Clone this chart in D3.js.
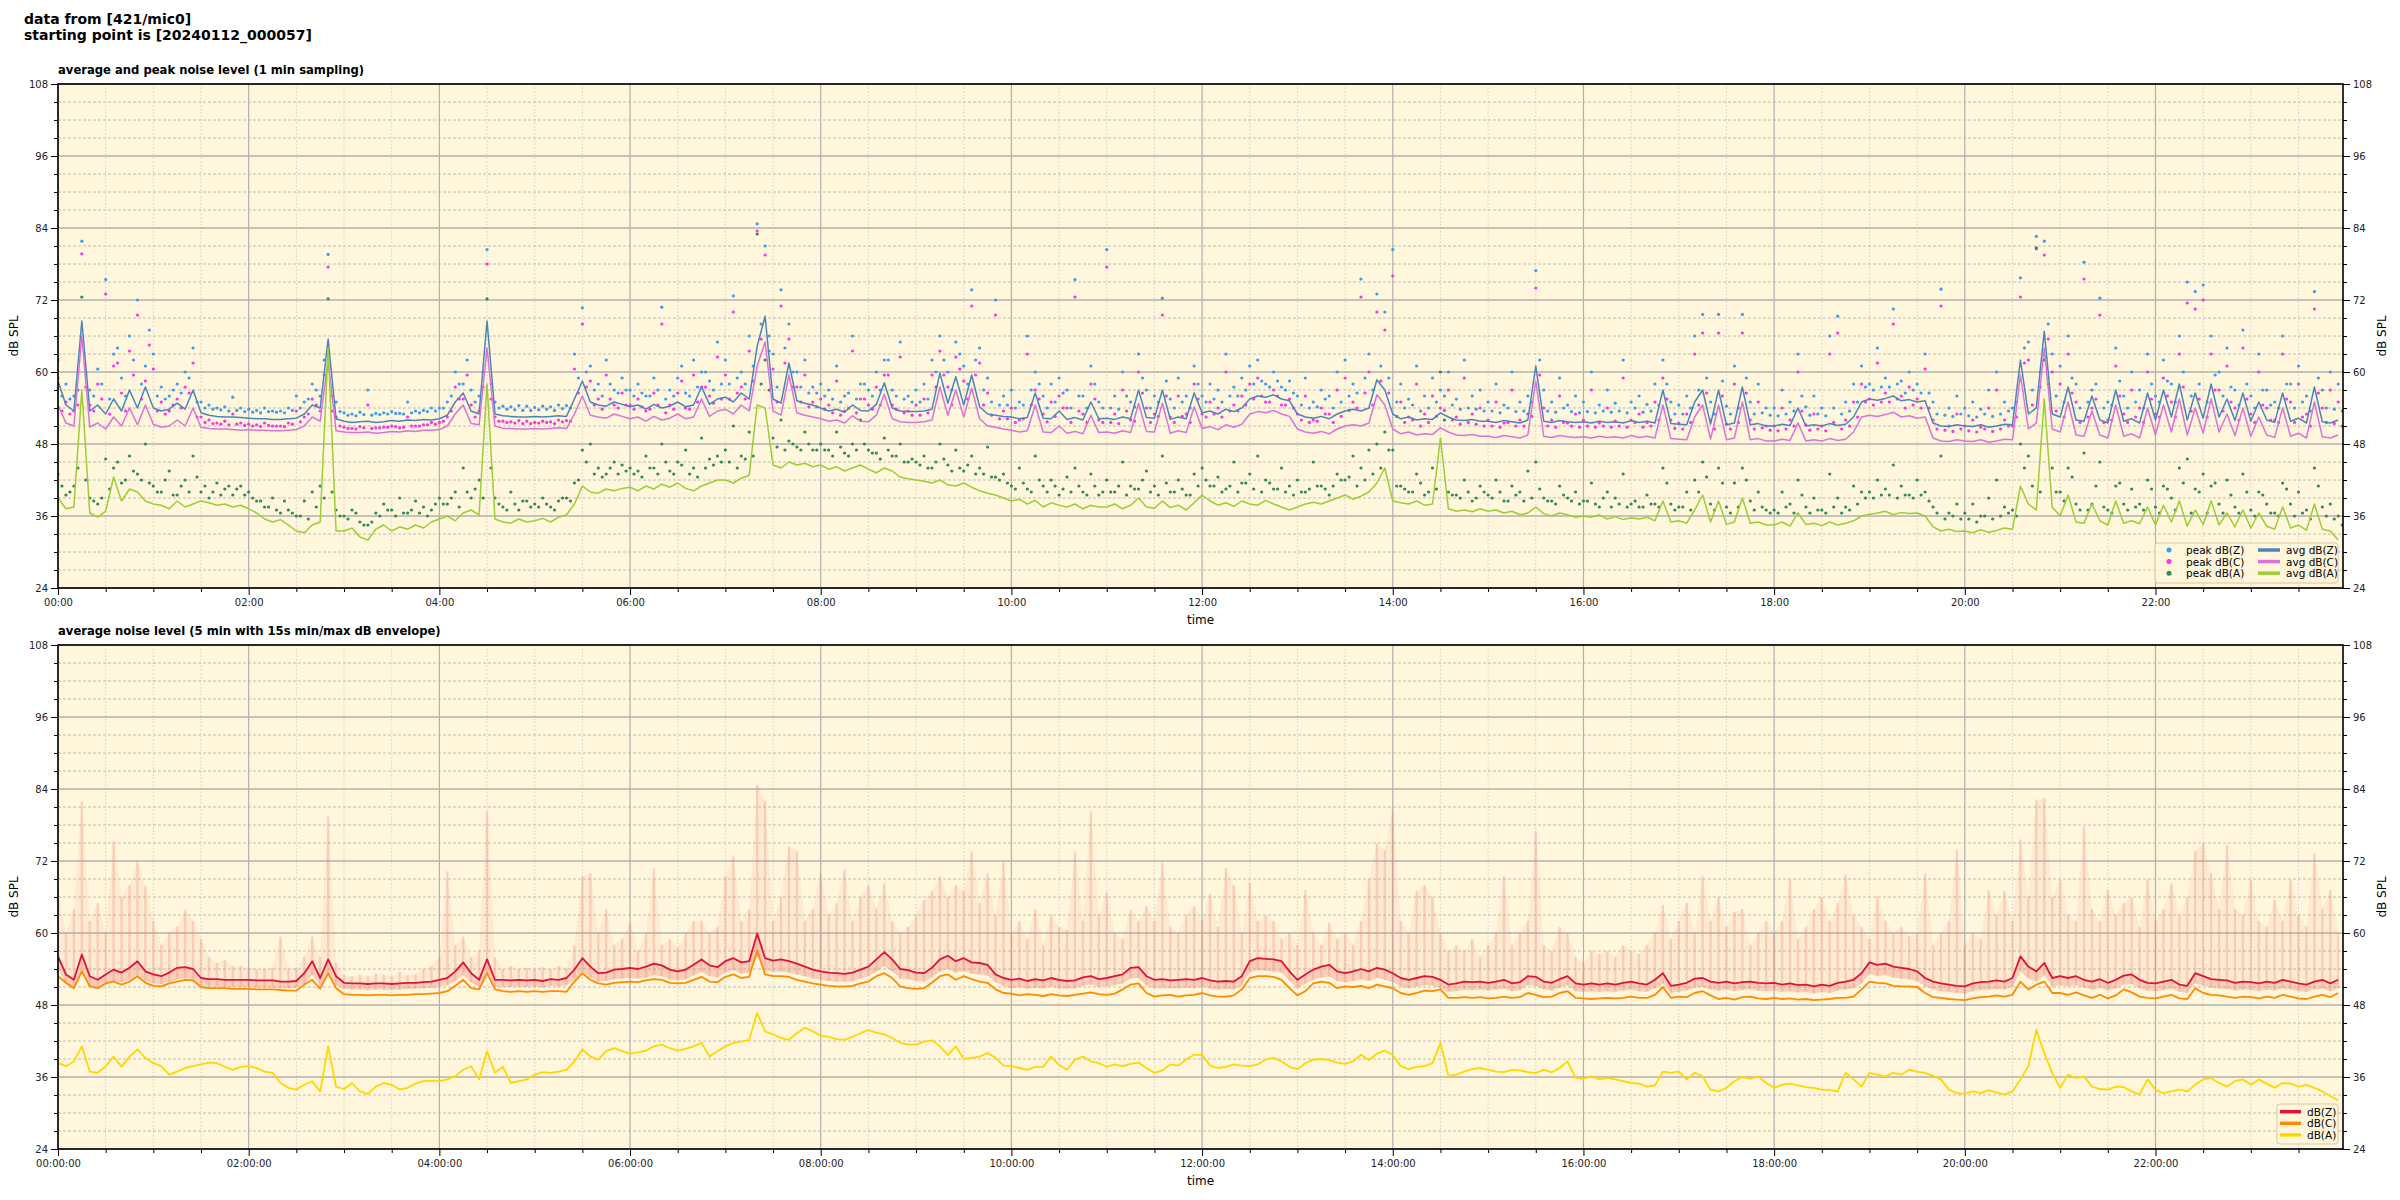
<!DOCTYPE html>
<html><head><meta charset="utf-8">
<script src="https://cdn.jsdelivr.net/npm/d3@7"></script>
<style>
body{margin:0;background:#fff;}
svg{display:block;font-family:"DejaVu Sans",sans-serif;}
</style>
</head><body>
<svg id="chart" width="2400" height="1200"></svg>
<script>
// ---------------- DATA ----------------
const titleLines = ["data from [421/mic0]", "starting point is [20240112_000057]"];
const topTitle = "average and peak noise level (1 min sampling)";
const bottomTitle = "average noise level (5 min with 15s min/max dB envelope)";
const stepMinutes = 5;
const xMajorTicks = [0,120,240,360,480,600,720,840,960,1080,1200,1320];
const xTickLabelsTop = ["00:00","02:00","04:00","06:00","08:00","10:00","12:00","14:00","16:00","18:00","20:00","22:00"];
const xTickLabelsBottom = ["00:00:00","02:00:00","04:00:00","06:00:00","08:00:00","10:00:00","12:00:00","14:00:00","16:00:00","18:00:00","20:00:00","22:00:00"];
const yMajorTicks = [24,36,48,60,72,84,96,108];

// top panel: average lines (5-min readings)
const avgZ = [
58.5,54.5,53.5,68.5,53.5,54.5,53,55.5,53.5,57,54,57.5,
54,53.5,53.8,54.8,53.8,57,53.2,52.8,52.6,52.5,52.5,52.4,
52.3,52.2,52.2,52.1,52.1,52.2,52.3,53,54.5,54,65.5,52.2,
51.8,51.6,51.7,51.8,51.6,51.7,51.9,51.8,52,51.9,52.1,52,
52.2,52.8,55,56.5,53.5,53,68.5,53,52.7,52.6,52.5,52.5,
52.6,52.5,52.6,52.7,52.6,55.5,58.5,55,54.5,54.3,55,54.6,
54.2,54.5,53.8,54.6,54,54.3,55,54.2,54.5,57.5,54.6,55.5,
55.8,55,56.5,55.5,64.3,69.3,55.5,54.8,61.5,55.2,54.8,54.5,
54,53.5,53.8,53.3,54.5,53.6,53.5,54.6,58.2,54,53.5,53.4,
53.4,53.5,53.8,59.8,54.8,59.2,54.5,59.5,54.2,53,52.8,52.6,
52.5,52.2,52.4,56.5,52.3,52.2,53.5,52.1,52.4,52,55,52.2,
52.3,52.1,52.5,52.2,57,52.4,52.3,57,52.1,52.5,52.2,56.5,
53.2,53.5,53,53.8,53.4,54,55.5,56,55.8,56.2,55.5,55.2,
53,52.5,52.3,52.6,52.2,53,53.5,53.8,53.5,54,58.7,57,
53,52.2,52.5,52,52.2,52.1,53.2,52.5,52,51.9,52.1,51.8,
51.8,51.6,51.9,51.7,51.5,52,61,51.8,51.6,51.9,51.7,51.6,
51.7,51.5,51.8,51.6,51.7,51.5,51.9,51.6,51.8,51.5,57,51.4,
51.3,51.2,55,57,51.3,57,51.2,51.5,57.5,51.2,51.4,51,
51,51.3,51.1,54,51,51.2,51,51.4,51.1,51.3,52.5,55,
55.5,55.3,55.6,56,55.2,55.4,55,55.2,51.5,51,50.9,51.2,
51,50.9,51.2,50.8,51,51.3,51.2,62,53,54,66.8,53,
52.5,57.5,52,51.8,56,52,51.5,57,51.8,52.2,51.5,56.5,
52,57,52.5,58,52,56.5,52.3,58,52.5,55.5,51.9,56.5,
51.8,55,52,51.6,56.5,51.8,52.3,51.5,57.5,51.7,51.5,52];
const avgC = [
54.5,51.5,51,66,50.8,51.5,50.5,52.5,51,54,51.2,54.5,
51.3,50.8,51,52,51,54,50.8,50.6,50.5,50.5,50.4,50.3,
50.4,50.3,50.3,50.2,50.2,50.3,50.4,51,52.5,51.8,62,50.2,
50,49.9,49.9,50,49.8,49.9,50.1,50,50.2,50.1,50.3,50.3,
50.4,51,53,54.5,51.4,51.2,64,51,50.6,50.6,50.5,50.5,
50.6,50.5,50.6,50.7,50.6,53,56,52.8,52.5,52.3,53,52.6,
52.2,52.5,51.8,52.6,52,52.3,53,52.2,52.5,55.5,52.6,53.5,
53.8,53,54.5,53.5,61,65,53.5,52.8,59.5,53.2,52.8,52.5,
52.2,51.8,52,51.5,52.7,51.8,51.7,52.8,56.3,52.2,51.7,51.6,
51.6,51.7,52,57.5,52.8,57,52.5,57.3,52.2,51,50.8,50.5,
50.3,50,50.2,54.5,50,49.9,51,49.8,50.1,49.7,52.8,49.9,
50,49.8,50.2,49.9,54.8,50.1,50,54.8,49.8,50.2,49.9,54.2,
50.6,50.9,50.4,51.2,50.8,51.3,53,53.4,53.2,53.6,53,52.6,
50.5,50,49.8,50.1,49.7,50.5,51,51.2,51,51.5,56.2,54.5,
50.5,49.7,50,49.5,49.7,49.6,50.7,50,49.5,49.4,49.6,49.3,
49.3,49.1,49.4,49.2,49,49.5,58.5,49.3,49.1,49.4,49.2,49.1,
49.2,49,49.3,49.1,49.2,49,49.4,49.1,49.3,49,54.5,48.9,
48.8,48.7,52.5,54.5,48.8,54.5,48.7,49,55,48.7,48.9,48.5,
48.5,48.8,48.6,51.5,48.5,48.7,48.5,48.9,48.6,48.8,50,52.5,
52.8,52.6,52.9,53.3,52.5,52.7,52.3,52.5,49,48.5,48.4,48.7,
48.5,48.4,48.7,48.3,48.5,48.8,48.7,59.5,50.5,51.5,64,50.5,
50,55,49.5,49.3,53.5,49.5,49,54.5,49.3,49.7,49,54,
49.5,54.5,50,55.5,49.5,54,49.8,55.5,50,53,49.4,54,
49.3,52.5,49.5,49.1,54,49.3,49.8,49,55,49.2,49,49.5];
const avgA = [
39,37.2,37.5,57,36.5,35.8,36.8,42.5,38.5,40.5,40,38.5,
38,37.8,37.2,38.5,37.5,38,38.5,38.2,37.8,38,37.5,37.8,
37.2,36.5,35.5,35,35.4,34.5,33.5,33.2,34.5,35,64,33.5,
33.5,34,32.5,32,33.8,34.5,33.5,34.2,33.8,34.5,34,35,
35.5,36,35.2,36.5,37,36.2,58,35.5,35,34.8,35.5,35,
35.2,35.6,35,35.8,36.2,38,41,40,39.8,40.5,40.2,40.6,
40.8,40.2,41,40.5,41.3,40.8,41.5,40.6,40.2,41,41.5,42,
42,41.5,42.3,42.8,54.5,54,44.5,44,45,44.5,44.8,44.2,
44.5,43.8,44.2,43.5,44,44.5,43.8,43.2,44,43.5,42.5,42.2,
42,41.8,41.5,42,41.2,41,41.5,40.8,40.2,39.8,39.5,39,
38.5,38.8,38,38.6,37.5,38.2,37.8,37.5,38,37.2,37.8,37.5,
37.5,38,37.2,37.8,39,37.5,37.3,38.5,37.4,37.8,37,38.2,
39.5,38.5,37.8,38.2,37.6,38.5,38,37.8,38.6,38,37.5,37,
37.5,38,38.3,38,38.5,39,39.5,38.8,39.3,40,41.5,44,
38.5,38.2,38,38.5,37.8,38,49,37.2,36.8,37,36.7,37.2,
36.8,37,36.5,36.8,36.2,36.5,37.5,36.4,36,36.5,36.2,35.8,
36,35.8,36.2,35.5,35.9,35.4,35.7,35.5,35.8,35.2,38.5,35,
35.2,34.8,37,39.5,35,38.5,34.6,35,39,34.8,35,34.5,
34.5,35,34.3,36.5,34.6,34.8,34.4,35,34.5,34.8,35.2,36,
36.3,36.5,36.8,36.2,36.6,36.4,36.5,36,34.2,33.5,33.8,33.4,
33.5,33.2,33.7,33.3,33.6,34,33.8,41,38,37,55.5,37.5,
36,39.5,35,34.8,38,35.2,34.5,38.5,34.8,35.2,34.7,37.5,
34.5,37.8,35,38.5,34.3,37,34.6,38.5,34.5,36.5,34.2,37,
34,36.5,34.3,33.8,37.5,34,34.5,33.6,38,33.8,33.5,32];

// top panel: peak readings on the 5-min marks
const peakZ = [
62,58,56,81.8,57,60.5,75.4,63,59,66,72,61,
63,57.5,56,58,60,64,55,54.5,54,54.2,55.8,54,
53.8,53.6,54,53.5,53.5,54,56,55,58,56,79.6,55,
53.2,53,53.3,57,53.1,53.2,53.4,53.1,55,53.5,53.6,54,
54,55,60,58,57,56,80.4,55,54.3,54.2,54.4,54.3,
54.1,54.3,54.2,54.5,54.4,63,70.7,61,58,62,57,59,
57,58,56,59,70.8,57,59,56.5,62,60,58.5,65,
62,72.7,60,66,84.7,81,63,73.7,68,60,62,57.5,
58,57,61,56,66,58,57,60,62,57,65,56,
57,58,62,66,60,65,61,73.7,64,59,72,56,
57,55,66,60,56,58,59,57,75.4,56,61,55,
80.4,56,60,55,63,57,56,72.3,55.5,59,56,61,
56,58,57,63,57.5,59,61,62,58,60,57.5,58.5,
56,59,55,57,56,60,62,58,75.5,63,73,70,
80.4,58,55.5,61,56,59,57,60,55.5,62,56,57,
55,58,54.5,60,55,56,76.9,57,55,59,54.5,56,
55,60,54.5,57,54.8,62,55,56,54.6,58,62,55,
54.5,56,66,69.6,55,69.6,54.3,61,69.6,55,58,54,
54,57,55,63,54.2,56,54,66,69.3,55,58,61,
58,64,59,70.5,58.5,60,58,63,55,73.8,54,56,
54,55,53.8,57,60,55,54,75.7,65,82.6,81.8,63,
61,66,58,78.3,57,72.3,55,64,56,60,57,63,
56,62,58,66,75,73.4,74.5,66,60,64,57,67,
56,63,57,55,66,58,61,56,73.4,57,60,58];
const peakC = [
59,55,53.5,79.7,54.5,58,73,61,56.5,63.5,69.5,58.5,
60.5,55,53.5,55.5,57.5,61.5,52.5,52,51.5,51.8,53,51.5,
51.3,51.2,51.5,51,51,51.5,53.5,52.5,55.5,53.5,77.5,52.5,
50.8,50.6,50.9,54.5,50.7,50.8,51,50.7,52.5,51,51.2,51.6,
51.6,52.5,57.5,55.5,54.5,53.5,78,52.5,51.8,51.7,51.9,51.8,
51.6,51.8,51.7,52,51.9,60.5,68,58.5,55.5,59.5,54.5,56.5,
54.5,55.5,53.5,56.5,68,54.5,56.5,54,59.5,57.5,56,62.5,
59.5,70,57.5,63.5,83.5,79.5,60.5,71,65.5,57.5,59.5,55,
55.5,54.5,58.5,53.5,63.5,55.5,54.5,57.5,59.5,54.5,62.5,53.5,
54.5,55.5,59.5,63.5,57.5,62.5,58.5,71,61.5,56.5,69.5,53.5,
54,52,63,57,53,55,56,54,72.5,53,58,52,
77.5,53,57,52,60,54,53,69.5,52.5,56,53,58,
53,55,54,60,54.5,56,58,59,55,57,54.5,55.5,
53,56,52,54,53,57,59,55,72.5,60,70,67,
76,55,52.5,58,53,56,54,57,52.5,59,53,54,
52,55,51.5,57,52,53,74,54,52,56,51.5,53,
52,57,51.5,54,51.8,59,52,53,51.6,55,59,52,
51.5,53,63,66.5,52,66.5,51.3,58,66.5,52,55,51,
51,54,52,60,51.2,53,51,63,66.5,52,55,58,
55.5,61.5,56.5,68,56,57.5,55.5,60.5,52,71,51,53,
51,52,50.8,54,57,52,51,72.5,62,80.5,79.5,60,
58,63,55,75.5,54,69.5,52,61,53,57,54,60,
53,59,55,63,71.5,70.5,72,63,57,61,54,64,
53,60,54,52,63,55,58,53,70.5,54,57,55];
const peakA = [
43,39.5,41,72.5,39,38,45.5,44,41.5,46,43,48,
41,40,43.5,39.5,42,46,40,39,41.5,40.5,39.5,41,
40,38.5,37.5,39,36.5,37,36,38.5,40,41,72.2,37,
36,37,35,34.5,36.5,38,37,39,36.5,38.5,37.5,37,
39,38,40,44,39,42,72.2,39,37.5,40,37,38.5,
38,39,37.5,38.5,39,41.5,47,48,44,43,45,44.5,
44,43.5,46,44,48,43.5,45,47,44,49,45.5,46,
47,51,46,50,83,62,49,52,48.5,47.5,50,47,
48,47,50,46.5,48,52,47,46.5,49,46,48,45,
45,46,44,48,44.5,47,43.5,46,44,47.5,42.5,43,
41,44,40.5,46,41,42,39.5,42.5,44,40,43,39.5,
42,40,45,41,40.5,43.5,41,46,40,42,39.5,43,
44,41,42.5,40.5,45,41.5,43,46,42,40.5,44,41,
42,40,45,41,39.5,43,42,46,44,47,48,50,
47,41,40,43,39.5,44,60,40,39.5,42,38.5,41,
39.5,42,38.5,41,40,43.5,45,39,38.5,41,39,40,
38.5,41.5,37.5,40,39,43,38,37.5,39.5,38,44,38,
37.5,40,42,45,38,44,37.5,41.5,44,38.5,40,37,
37,40,38,42,37.5,39,37,43,39,37.5,41,40,
40,42,40.5,44.5,41,39.5,42,40,37.5,46,36.5,38,
36.5,38,36,39,42,37.5,37,48,46,80.7,62,44,
40,44,38,46.5,38,45,37,41,38,40.5,38,42,
37.5,41,39,44,45.5,40.5,43,41,38,42,37.5,43,
37,40,38,36.5,41.5,38,40,37,44,37.5,38,36];
// top panel: peak readings half-way between the 5-min marks
const peakZb = [
56,55.5,57,60,56,58,55.5,64,56,62,58,67,
56,55.5,57,56.5,59,55,54,53.8,53.7,53.5,53.6,53.4,
53.3,53.2,53.4,53.3,53.2,53.6,54,55.5,57,62,56,53.4,
52.8,52.7,52.9,52.8,52.9,53,53.1,53,53.2,53.2,53.4,53.5,
54,56,58,62,55,60,58,54,53.8,53.7,53.6,53.6,
53.7,53.8,53.6,53.9,54,59,60,57,56,58,56.5,57,
56,56.5,56,57,55.5,56,61,56,57.5,60,57,58,
58,59,58,61,68,66,57.5,64,60,57.5,56.5,56.5,
56,55.5,55,56.5,55.5,58,56,57,62,56,55.5,55,
55,55.5,60,62,57,63,58,62,57,55,54.5,54.5,
54,54.5,57,58,54,55,56.5,54,56,54,58,54,
54,53.8,56,54.2,59,54,55,58.5,54,55,54,58,
55,55.5,55,56,56,57,58,58.5,57.5,58.5,57,56.5,
54.5,54,54.2,55.5,54,55,56,56.5,59,57,61,59,
55,54,54.5,53.5,54,55,56,54.5,53.8,54,53.8,53.5,
53.5,53.2,54,53.4,53.5,55,62,53.5,53.3,54,53.4,53.2,
53.4,53.2,53.5,53.3,53.5,53.2,54,53.3,53.5,54.5,58,53,
53,54,57,59,53,58.5,53,54,59,53,53.2,52.8,
52.7,53,53.5,56,52.8,53,52.7,54,53,53.5,55,57.5,
57,57.5,57.5,58,56.5,57,56.5,56.5,53,52.8,52.6,53,
52.7,52.5,53,52.6,53,53.5,55,64,57,60,68,56,
55,59,54,55,58,54,54.5,58.5,54,55,54,58,
55,58.5,55,60,56,58,55,59.5,56,57.5,54.5,58,
54,57,54.5,54,58,54,55,53.5,59,54,53.8,53.5];
const peakCb = [
53.5,53,54.5,57.5,53.5,55.5,53,61.5,53.5,59.5,55.5,64.5,
53.5,53,54.5,54,56.5,52.5,51.6,51.4,51.3,51.2,51.3,51.1,
51,50.9,51.1,51,50.9,51.3,51.7,53,54.5,59.5,53.5,51,
50.6,50.5,50.7,50.6,50.7,50.8,50.9,50.8,51,51,51.2,51.3,
51.8,53.5,55.5,59.5,52.5,57.5,55.5,51.8,51.6,51.5,51.4,51.4,
51.5,51.6,51.4,51.7,51.8,56.5,57.5,54.5,53.8,55.5,54,54.5,
53.8,54.2,53.8,54.5,53.2,53.8,58.5,53.8,55,57.5,54.8,55.5,
55.5,56.5,55.5,58.5,65.5,63.5,55,61.5,57.5,55,54.2,54.2,
53.8,53.2,52.8,54,53.2,55.5,53.8,54.5,59.5,53.8,53.2,52.8,
52.8,53.2,57.5,59.5,54.5,60.5,55.5,59.5,54.5,52.8,52.2,52.2,
51.6,52.2,54.5,55.5,51.7,52.6,54,51.6,53.5,51.6,55.5,51.6,
51.6,51.4,53.5,51.8,56.5,51.6,52.6,56,51.6,52.6,51.6,55.5,
52.5,53,52.5,53.5,53.5,54.5,55.5,56,55,56,54.5,54,
52,51.6,51.8,53,51.6,52.6,53.6,54,56.5,54.5,58.5,56.5,
52.6,51.6,52,51,51.6,52.6,53.6,52,51.3,51.6,51.3,51,
51,50.8,51.6,51,51,52.6,59.5,51,50.8,51.6,51,50.8,
51,50.8,51,50.8,51,50.8,51.6,50.8,51,52,55.5,50.6,
50.5,51.6,54.5,56.5,50.5,56,50.5,51.6,56.5,50.5,50.7,50.3,
50.2,50.5,51,53.5,50.3,50.5,50.2,51.6,50.5,51,52.5,55,
54.5,55,55,55.5,54,54.5,54,54,50.5,50.3,50.1,50.5,
50.2,50,50.5,50.1,50.5,51,52.5,61.5,54.5,57.5,65.5,53.5,
52.5,56.5,51.6,52.5,55.5,51.6,52,56,51.6,52.5,51.6,55.5,
52.5,56,52.5,57.5,53.5,55.5,52.5,57,53.5,55,52,55.5,
51.6,54.5,52,51.6,55.5,51.6,52.5,51,56.5,51.6,51.4,51];
const peakAb = [
41,40,44,42,38.5,39,40.5,45,42,43.5,42,41.5,
40,42,39.5,41,40,42.5,41,40,39.5,41,40.5,39.5,
39,38.5,37.5,37,38.5,36.5,36,35.5,37.5,39,40,36,
35.5,36.5,34.5,35,36,37,36,36.5,37,36.5,36,38,
38,39,37.5,40,40.5,39,44,38,37,38,38.5,37.5,
37.5,38,37,39,38.5,42,45,43,42.5,44,43,43.5,
43,42.5,44,43,45,43,44.5,43,42.5,44,44.5,45,
45,44,45.5,46,58,57,47.5,47,48,47,48,47,
47,46,47.5,46,47,48,46.5,45.5,47,46,45,45.5,
44.5,44,45,45.5,43.5,44,44.5,43,43,42.5,42,41.5,
40.5,41.5,40,42,40,41,40.5,40,41,39.5,41,40,
40,41,39.5,40.5,42,40,39.5,41.5,40,40.5,39.5,41,
42,41,40,41,40,41.5,40.5,40,41.5,40.5,40,39.5,
40,40.5,41,40.5,41,42,42.5,41,42,43,44,47,
41,40.5,40,41.5,40,40.5,52,39.5,39,40,39,40,
39,40,38.5,39.5,38.5,39,40.5,38.5,38,39.5,38.5,38,
38.5,38,39,37.5,38,37.5,38.5,37.5,38,37.5,41.5,37,
37.5,37,40,42.5,37,41.5,36.5,37.5,42,37,37.5,36.5,
36.5,37.5,36.5,39.5,36.5,37,36.5,37.5,36.5,37,38,39,
39,39.5,39.5,39,39.5,39,39.5,38.5,36.5,35.5,36,35.5,
35.5,35,36,35.5,36,36.5,36,44,41,40,58,40,
38.5,42.5,37,37,41,37.5,36.5,41.5,37,37.5,37,40.5,
36.5,40.5,37,41.5,36.5,40,36.5,41.5,36.5,39.5,36.5,40,
36,39.5,36.5,36,40.5,36,36.5,35.5,41,36,35.5,34.5];

// bottom panel: 5-min averages
const lvlZ = [
56.1,53.1,52.2,56.4,52.8,52.2,53.1,53.9,53.4,54.2,55.3,53.6,
53.1,52.8,53.4,54.2,54.3,54,52.5,52.3,52.3,52.2,52.2,52.2,
52.2,52.1,52.1,52.1,51.9,51.9,52,53.3,55.3,52.5,55.6,52.8,
51.7,51.6,51.6,51.5,51.6,51.6,51.5,51.6,51.7,51.7,51.8,51.9,
52.2,52.5,53.6,55.1,53.3,52.2,55.6,52.2,52.2,52.1,52.2,52.1,
52.2,52,52.3,52.2,52.5,53.9,55.8,54.4,53.3,53.4,53.9,54,
54.2,54,54.4,54.9,54.6,53.9,53.6,53.9,54.7,55.6,54.6,54.3,
55.3,55.8,55.1,55.3,59.9,55.8,55.4,55.6,55.3,54.9,54.4,53.9,
53.6,53.4,53.3,53.2,53.4,53.9,54.4,55.6,56.8,55.6,54,53.8,
53.4,53.3,54.2,55.6,56.2,55.3,55.8,55.1,55,54.7,53.1,52.5,
52.2,52.4,52,52.3,52.1,52.5,52.2,52,52.1,52.6,52.8,52.3,
52.5,52.8,53.1,54.2,54.3,52.8,52.2,52.3,52.1,52.2,52.3,52.2,
52.5,52.1,51.9,52,51.9,52.8,55.3,55.8,55.7,55.6,55.3,53.6,
52.2,53.1,53.9,54.4,54.7,53.6,53.3,53.6,54,53.6,54.2,53.9,
53.3,52.5,52.2,52.5,52.8,52.7,52.2,51.4,51.6,51.9,51.8,51.9,
51.7,51.9,52.2,51.6,51.8,52.8,52.7,51.9,51.7,52.3,52.8,51.6,
51.4,51.6,51.4,51.6,51.4,51.7,51.9,51.6,51.4,52.2,53.3,51.2,
51.4,51.7,52.4,52.5,51.9,51.7,51.9,51.6,51.8,51.9,51.7,51.6,
51.7,51.4,51.6,51.3,51.4,51.1,51.4,51.2,51.7,51.9,52.2,53.3,
55.1,54.7,54.9,54.4,54.2,54,53.6,52.5,51.9,51.6,51.4,51.2,
51.1,51.6,51.8,51.9,52.1,51.9,52.5,56.1,54.4,53.6,55,52.5,
52.8,52.5,52.8,52.2,51.9,52.3,51.7,52.2,52.9,53.1,52.2,51.7,
51.6,51.9,52.2,51.4,51.2,53.3,52.8,52.3,52.2,52.1,51.7,51.9,
51.8,51.6,51.9,51.7,52.2,51.9,51.6,51.4,51.9,52.2,51.6,52.2];
const lvlC = [
52.8,51.7,50.8,53.6,51.1,50.8,51.6,51.9,51.4,51.9,52.8,51.7,
51.2,51.1,51.6,51.9,52.2,52.1,51,50.8,50.8,50.8,50.7,50.7,
50.7,50.6,50.6,50.6,50.5,50.4,50.4,51.4,52.2,50.7,53.3,50.8,
49.8,49.7,49.7,49.6,49.7,49.7,49.6,49.7,49.7,49.8,49.8,49.9,
50,50.3,51.2,52.2,50.8,50.6,53.3,50.6,50.3,50.2,50.3,50.2,
50.3,50.2,50.3,50.3,50.2,51.9,53.3,52.2,51.6,51.4,51.7,51.8,
51.9,51.8,52.1,52.3,52.2,51.7,51.6,51.7,52.2,52.7,51.9,51.8,
52.7,53.1,52.5,52.7,57.1,53.1,52.8,52.8,52.7,52.2,51.9,51.6,
51.4,51.2,51.1,51.1,51.2,51.6,51.9,52.8,53.3,52.5,51.1,50.8,
50.7,50.8,51.7,52.8,53.1,52.2,52.8,52.3,51.9,51.7,50.6,50,
49.9,49.6,49.8,49.7,49.5,49.8,49.6,49.5,49.7,49.9,50.1,49.8,
49.7,49.9,50.6,51.4,51.6,50,49.4,49.6,49.7,49.4,49.6,49.7,
50,49.6,49.4,49.4,49.6,50.6,52.5,52.8,52.8,52.7,52.2,50.8,
49.6,50.3,51.6,51.9,51.7,50.8,51.1,51,51.2,50.8,51.4,51.1,
50.8,50,49.7,50,50.4,50.3,50.6,49.2,49.2,49.3,49.2,49.3,
49.1,49.2,49.4,49.2,49.3,50,49.7,49.3,49.4,50,50.3,49.2,
49.1,49,49.1,49.2,49.1,49.2,49.4,49.2,49.2,49.7,51,49.2,
49.4,49.3,50,50.3,49.6,49,49.2,48.9,49.3,49.4,49.1,49,
49.2,49,49.1,48.9,49,48.8,48.9,49,49.2,49.2,49.4,50.6,
51.9,51.7,51.6,51.2,51.1,51.1,51,50,49.3,49.2,49,48.9,
48.8,49.1,49.3,49.4,49.6,49.4,49.7,51.9,50.6,51.4,51.9,50,
50,49.7,50.1,49.6,49.2,49.7,49.1,49.6,50.6,50.1,49.4,49.2,
49.1,49.4,49.7,49.1,49,50.8,50,49.7,49.6,49.4,49.2,49.4,
49.3,49.1,49.4,49.2,49.7,49.4,49.1,49,49.4,49.7,49.3,50];
const lvlA = [
38.3,37.8,38.6,41.1,36.9,36.7,37.8,39.4,37.7,39.4,40.6,39.2,
38.3,37.8,36.4,36.9,37.5,37.8,38.1,38.4,38.3,37.7,37.2,37.7,
37.8,37.5,36.9,36.7,35,34.2,33.9,34.7,35.3,33.6,41.1,34.4,
34,35,33.6,33.2,34.4,35,34.7,33.9,34.2,34.9,35.3,35.4,
35.3,35.6,36.1,37.2,37.8,35.6,40.3,36.7,37.7,35,35.3,35.6,
36.4,36.8,36.7,36.9,37.2,38.6,40.6,39.4,38.9,40.3,40.8,40.3,
39.9,40.1,40.4,41.1,41.4,40.8,40.4,40.7,41.1,41.7,39.4,40.3,
41.1,41.7,41.9,42.2,46.7,43.6,43.1,42.5,42.2,43.3,44.2,43.6,
42.9,42.7,42.3,42.2,42.7,43.3,43.8,43.4,43.1,42.5,41.7,41.4,
41.4,41.9,42.1,41.1,39.7,41.1,39,39.2,39.4,40,39.2,37.9,
37.8,37.5,37.2,37.7,37.7,39.4,38,37.2,38.9,39.4,38.6,38.3,
37.7,38.1,37.8,38.2,38.4,37.5,36.7,37.1,38.1,37.9,38.9,39.7,
39.7,37.9,37.5,37.7,38.1,37.9,37.8,38.1,38.9,39.2,38.6,37.7,
37.3,38.3,38.9,39,38.8,38.4,38.2,38.6,39.7,38.8,39.9,40.4,
39.7,37.8,37.3,37.7,37.8,38.3,41.7,36.2,36.4,36.9,37.3,37.5,
37.2,36.9,36.8,37.2,37.1,36.8,36.7,37.2,36.8,37.5,38.6,35.8,
35.7,36.1,35.6,35.8,35.6,35.3,35,34.9,34.4,34.6,36.9,36.7,
36.9,35.6,36.7,36.1,33.9,33.6,34.2,35.3,36,35.7,36.1,35,
34.2,34.7,34.9,34.6,34.3,34.2,33.9,33.8,33.6,36.7,35.6,34.4,
36.7,36.4,36.1,36.7,36.4,37.2,36.9,36.7,36.2,35.6,33.9,33.3,
33.2,33.6,33.3,33.8,33.4,33.1,33.6,35.6,37.8,43.9,40,36.7,
34.2,36.4,35.8,36.1,34.4,34,33.9,34.4,34.3,33.6,33.1,35.6,
33.9,33.3,33.6,33.9,33.6,34.7,35.6,35.8,35,34.4,35.3,35.6,
34.7,35.6,34.9,34.2,35,34.9,34.4,34.7,34.2,33.6,32.8,32.1];
// 15 s min / max envelope of dB(Z)
const envMin = [
54,51.5,51,53.5,51.2,50.9,51.5,52,51.8,52.2,53,52,
51.6,51.5,51.8,52.3,52.4,52.2,51.2,51.1,51.1,51,51,51,
51,50.9,50.9,50.9,50.8,50.8,50.9,51.5,53,51.2,53,51.3,
50.7,50.6,50.6,50.5,50.6,50.6,50.5,50.6,50.7,50.7,50.8,50.9,
51.1,51.3,52,53,51.8,51,53,51,51.1,51,51.1,51,
51.1,50.9,51.2,51.1,51.3,52.2,53.5,52.6,51.9,52,52.3,52.4,
52.5,52.4,52.6,53,52.8,52.3,52.1,52.3,52.9,53.5,52.8,52.6,
53.4,53.8,53.2,53.4,56,53.8,53.5,53.6,53.4,53.1,52.8,52.4,
52.2,52,51.9,51.9,52,52.4,52.8,53.6,54.5,53.6,52.4,52.3,
52,51.9,52.6,53.6,54,53.4,53.7,53.2,53.1,52.9,51.8,51.2,
50.8,51,50.7,50.9,50.8,51.1,50.8,50.7,50.8,51.2,51.4,51,
51.1,51.3,51.6,52.4,52.5,51.3,50.8,50.9,50.8,50.8,50.9,50.8,
51.1,50.8,50.6,50.7,50.6,51.3,53.4,53.8,53.7,53.6,53.4,52.1,
50.8,51.6,52.2,52.6,52.8,52,51.8,52,52.3,52,52.5,52.2,
51.8,51.1,50.8,51.1,51.3,51.2,50.8,50.2,50.3,50.6,50.5,50.6,
50.4,50.6,50.8,50.3,50.5,51.3,51.2,50.6,50.4,50.9,51.3,50.3,
50.2,50.3,50.2,50.3,50.2,50.4,50.6,50.3,50.2,50.8,51.6,50,
50.2,50.4,50.9,51,50.6,50.4,50.6,50.3,50.5,50.6,50.4,50.3,
50.4,50.2,50.3,50.1,50.2,49.9,50.2,50,50.4,50.6,50.8,51.6,
53.2,52.8,53,52.6,52.4,52.3,52,51.1,50.6,50.3,50.2,50,
49.9,50.3,50.5,50.6,50.7,50.6,51,53.6,52.4,51.9,53,51.1,
51.3,51.1,51.3,50.9,50.6,50.9,50.4,50.8,51.4,51.5,50.8,50.4,
50.3,50.5,50.8,50.2,50,51.6,51.3,50.9,50.8,50.7,50.4,50.6,
50.5,50.3,50.6,50.4,50.8,50.6,50.3,50.2,50.6,50.8,50.3,50.8];
const envMax = [
66.7,60,64,81.9,62,65,60,75.3,66,68,71.9,67.8,
62,58,60,61,63.9,62,59,56,55,55.5,54.5,54.5,
54.2,54,54,54.2,59.4,54,54.2,56,59.4,56,79.4,55,
53,52.8,53,52.8,53.2,53,52.8,53.5,53,53.2,54,54.5,
56,70.3,58,59.4,56,57,80.3,56,54,54.5,54,54.2,
54,54.3,54,54.5,54.2,58,69.4,70,60,64,58,59,
61.7,57,60,70.8,58,59,57.5,60,62,62,60,61,
69.4,72.8,62,64,84.7,82,62,66,74.4,73.6,62,64,
70,63,65,70.6,62,66,68,64,68.3,62,60,61,
63,65.5,67,69.4,66,68,67,73.6,65,70,63,71.9,
60,62,59,64,58,63,61,60.5,73.6,62,80.3,63,
66.7,60,59,63.9,62,64.5,62,71.8,61,60,63,64.5,
62,66.5,61,70.8,68,60,68.5,62,63,62,59,60,
58,67.2,60,58,61.7,59,60,58,62,69,74.9,73.8,
80.6,62,60,67,68,66,60,57,58,57,59,56,
58,60,69.4,58,60,62,76.9,58,57,61,60,56,
55,57,56.5,57,56,58,57,56.5,58,60,64.7,59,
62,65,60,69.6,62,66,61,63.5,64,58,60,62,
60,62,68.9,59,61,64,66,62,65,69.7,63,61,
59,66.1,62,60,61,59.5,60,70,58,60,62,73.9,
58,60,59,67.2,63,67,62,75.6,66,82.2,82.5,66,
68.9,63,62,77.7,64,62,67.2,63,65,66,61,68.9,
62,64,68.3,63,66,73.6,75,70,64,74.7,64,63,
68.9,62,61,65.6,62,68.9,63,61,73.3,64,67.2,60];

const topSeries = [
  {name:"avg dB(Z)", values:avgZ, color:"#4a86b8"},
  {name:"avg dB(C)", values:avgC, color:"#dc72d6"},
  {name:"avg dB(A)", values:avgA, color:"#9ccd35"}];
const topPeaks = [
  {name:"peak dB(Z)", values:peakZ, half:peakZb, color:"#3c9cf0"},
  {name:"peak dB(C)", values:peakC, half:peakCb, color:"#ff33e6"},
  {name:"peak dB(A)", values:peakA, half:peakAb, color:"#2e8b57"}];
const bottomSeries = [
  {name:"dB(Z)", values:lvlZ, color:"#dc143c"},
  {name:"dB(C)", values:lvlC, color:"#ff8c00"},
  {name:"dB(A)", values:lvlA, color:"#ffd700"}];

// ---------------- DRAW ----------------
const svg = d3.select("#chart");
const W = 2400, H = 1200;
const plotL = 58, plotR = 2343;
const panels = [{top:84, bottom:588}, {top:645, bottom:1149}];
const x = d3.scaleLinear().domain([0, 1438]).range([plotL, plotR]);
const tOf = i => i * stepMinutes;
const BG = "#fff6dc", GRID = "#b0b0b0";

svg.append("rect").attr("width", W).attr("height", H).attr("fill", "#fff");

svg.selectAll("text.title").data(titleLines).enter().append("text")
  .attr("x", 24).attr("y", (d,i)=>24 + i*16)
  .attr("font-size", 14).attr("font-weight", "bold").attr("fill", "#000").text(d=>d);

function drawFrame(p, subtitle) {
  const y = d3.scaleLinear().domain([24,108]).range([p.bottom, p.top]);
  const g = svg.append("g");
  g.append("rect").attr("x", plotL).attr("y", p.top).attr("width", plotR-plotL)
    .attr("height", p.bottom-p.top).attr("fill", BG);
  const minorY = d3.range(24,109,3).filter(v => v % 12 !== 0);
  const minorX = d3.range(0,1439,30).filter(v => v % 120 !== 0);
  g.selectAll(".gmx").data(minorX).enter().append("line")
    .attr("x1", d=>x(d)).attr("x2", d=>x(d)).attr("y1", p.top).attr("y2", p.bottom)
    .attr("stroke", "#c8c8c8").attr("stroke-width", 0.8).attr("stroke-dasharray", "1.5,2");
  g.selectAll(".gmy").data(minorY).enter().append("line")
    .attr("x1", plotL).attr("x2", plotR).attr("y1", d=>y(d)).attr("y2", d=>y(d))
    .attr("stroke", GRID).attr("stroke-width", 0.8).attr("stroke-dasharray", "3,2");
  g.selectAll(".gMx").data(xMajorTicks).enter().append("line")
    .attr("x1", d=>x(d)).attr("x2", d=>x(d)).attr("y1", p.top).attr("y2", p.bottom)
    .attr("stroke", GRID).attr("stroke-width", 1.2);
  g.selectAll(".gMy").data(yMajorTicks).enter().append("line")
    .attr("x1", plotL).attr("x2", plotR).attr("y1", d=>y(d)).attr("y2", d=>y(d))
    .attr("stroke", GRID).attr("stroke-width", 1.6);
  svg.append("text").attr("x", plotL).attr("y", p.top - 10).attr("font-size", 11.6)
    .attr("font-weight", "bold").text(subtitle);
  return {y, minorX, minorY};
}

function drawAxes(p, sc, tickLabels) {
  const y = sc.y;
  const g = svg.append("g");
  const styleAxis = sel => { sel.select(".domain").remove(); sel.selectAll("line").attr("stroke","#000");
    sel.selectAll("text").attr("font-family","DejaVu Sans").attr("font-size",10).attr("fill","#222"); };
  g.append("g").attr("transform", `translate(0,${p.bottom})`)
    .call(d3.axisBottom(x).tickValues(xMajorTicks).tickFormat((d,i)=>tickLabels[i]).tickSize(7).tickPadding(4)).call(styleAxis);
  g.append("g").attr("transform", `translate(0,${p.bottom})`)
    .call(d3.axisBottom(x).tickValues(sc.minorX).tickFormat("").tickSize(4)).call(styleAxis);
  g.append("g").attr("transform", `translate(${plotL},0)`)
    .call(d3.axisLeft(y).tickValues(yMajorTicks).tickSize(7).tickPadding(3)).call(styleAxis);
  g.append("g").attr("transform", `translate(${plotL},0)`)
    .call(d3.axisLeft(y).tickValues(sc.minorY).tickFormat("").tickSize(4)).call(styleAxis);
  g.append("g").attr("transform", `translate(${plotR},0)`)
    .call(d3.axisRight(y).tickValues(yMajorTicks).tickSize(7).tickPadding(3)).call(styleAxis);
  g.append("g").attr("transform", `translate(${plotR},0)`)
    .call(d3.axisRight(y).tickValues(sc.minorY).tickFormat("").tickSize(4)).call(styleAxis);
  g.append("rect").attr("x", plotL).attr("y", p.top).attr("width", plotR-plotL)
    .attr("height", p.bottom-p.top).attr("fill", "none").attr("stroke", "#000").attr("stroke-width", 1.6);
  g.append("text").attr("x", (plotL+plotR)/2).attr("y", p.bottom + 36).attr("text-anchor","middle")
    .attr("font-size", 12).text("time");
  const my = (p.top + p.bottom)/2;
  g.append("text").attr("transform", `translate(18,${my}) rotate(-90)`).attr("text-anchor","middle")
    .attr("font-size", 12).text("dB SPL");
  g.append("text").attr("transform", `translate(2386,${my}) rotate(-90)`).attr("text-anchor","middle")
    .attr("font-size", 12).text("dB SPL");
}

function clipFor(p, id) {
  svg.append("clipPath").attr("id", id).append("rect").attr("x", plotL).attr("y", p.top)
    .attr("width", plotR-plotL).attr("height", p.bottom-p.top);
  return `url(#${id})`;
}

// ----- top panel -----
const P1 = panels[0];
const s1 = drawFrame(P1, topTitle);
const g1 = svg.append("g").attr("clip-path", clipFor(P1, "clip1"));
topPeaks.forEach(s => {
  const gg = g1.append("g").attr("fill", s.color);
  gg.selectAll("circle.a").data(s.values).enter().append("circle")
    .attr("cx", (d,i)=>x(tOf(i))).attr("cy", d=>s1.y(d)).attr("r", 1.6);
  gg.selectAll("circle.b").data(s.half).enter().append("circle")
    .attr("cx", (d,i)=>x(tOf(i) + stepMinutes/2)).attr("cy", d=>s1.y(d)).attr("r", 1.6);
});
topSeries.forEach(s => {
  const line = d3.line().x((d,i)=>x(tOf(i))).y(d=>s1.y(d));
  g1.append("path").datum(s.values).attr("d", line).attr("fill","none")
    .attr("stroke", s.color).attr("stroke-width", 1.5).attr("stroke-linejoin","round");
});
drawAxes(P1, s1, xTickLabelsTop);

// top legend
(function(){
  const lg = svg.append("g");
  lg.append("rect").attr("x", 2155).attr("y", 543).attr("width", 183).attr("height", 40).attr("rx", 3)
    .attr("fill", "#fff6dc").attr("fill-opacity", 0.85).attr("stroke", "#dcc79c");
  topPeaks.forEach((s,i) => {
    const yy = 550 + i*11.6;
    lg.append("circle").attr("cx", 2169).attr("cy", yy).attr("r", 2.5).attr("fill", s.color);
    lg.append("text").attr("x", 2186).attr("y", yy + 4).attr("font-size", 10.5).text(s.name);
  });
  topSeries.forEach((s,i) => {
    const yy = 550 + i*11.6;
    lg.append("line").attr("x1", 2258).attr("x2", 2280).attr("y1", yy).attr("y2", yy)
      .attr("stroke", s.color).attr("stroke-width", 3.5);
    lg.append("text").attr("x", 2286).attr("y", yy + 4).attr("font-size", 10.5).text(s.name);
  });
})();

// ----- bottom panel -----
const P2 = panels[1];
const s2 = drawFrame(P2, bottomTitle);
const g2 = svg.append("g").attr("clip-path", clipFor(P2, "clip2"));
// faint full min/max band
const fullBand = d3.area().x((d,i)=>x(tOf(i))).y0((d,i)=>s2.y(envMin[i])).y1(d=>s2.y(d));
g2.append("path").datum(envMax).attr("d", fullBand).attr("fill", "#f08070").attr("fill-opacity", 0.1);
// lower part of the band (min up to the average)
const lowBand = d3.area().x((d,i)=>x(tOf(i))).y0((d,i)=>s2.y(envMin[i])).y1(d=>s2.y(d));
g2.append("path").datum(lvlZ).attr("d", lowBand).attr("fill", "#f08070").attr("fill-opacity", 0.25);
// min/max spikes
g2.append("g").selectAll("line").data(envMax).enter().append("line")
  .attr("x1", (d,i)=>x(tOf(i))).attr("x2", (d,i)=>x(tOf(i)))
  .attr("y1", (d,i)=>s2.y(envMin[i])).attr("y2", d=>s2.y(d))
  .attr("stroke", "#f08a78").attr("stroke-opacity", 0.3).attr("stroke-width", 2.4);
bottomSeries.forEach(s => {
  const line = d3.line().x((d,i)=>x(tOf(i))).y(d=>s2.y(d));
  g2.append("path").datum(s.values).attr("d", line).attr("fill","none")
    .attr("stroke", s.color).attr("stroke-width", 1.8).attr("stroke-linejoin","round");
});
drawAxes(P2, s2, xTickLabelsBottom);

(function(){
  const lg = svg.append("g");
  lg.append("rect").attr("x", 2277).attr("y", 1104).attr("width", 61).attr("height", 40).attr("rx", 3)
    .attr("fill", "#fff6dc").attr("fill-opacity", 0.85).attr("stroke", "#dcc79c");
  bottomSeries.forEach((s,i) => {
    const yy = 1111.7 + i*11.6;
    lg.append("line").attr("x1", 2280).attr("x2", 2301).attr("y1", yy).attr("y2", yy)
      .attr("stroke", s.color).attr("stroke-width", 3.5);
    lg.append("text").attr("x", 2307).attr("y", yy + 4).attr("font-size", 10.5).text(s.name);
  });
})();
</script>
</body></html>
